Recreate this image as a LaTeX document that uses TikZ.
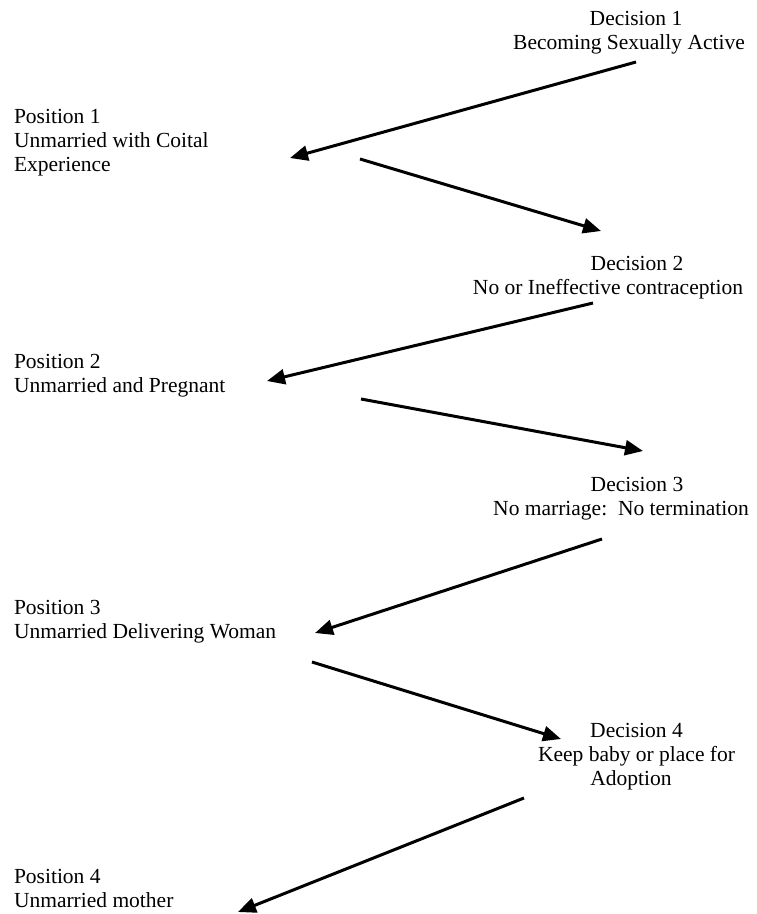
\documentclass[tikz,border=0pt]{standalone}
\usepackage{fontspec}
\setmainfont{Liberation Serif}
\usetikzlibrary{arrows.meta}
\tikzset{
  txt/.style={inner sep=0pt, outer sep=0pt, font=\fontsize{21.5pt}{24pt}\selectfont},
  decbox/.style={txt, anchor=north, align=center},
  posbox/.style={txt, anchor=north west, align=left},
  conn/.style={line width=3pt, -{Triangle[length=18pt,width=15pt]}}
}
\begin{document}
\begin{tikzpicture}[x=1pt,y=-1pt]
\useasboundingbox (0,0) rectangle (756,914);

% decisions
\node[decbox] (d1) at (636,8.2) {\strut Decision 1\\\strut Becoming Sexually Active\hspace*{14pt}};
\node[decbox] (d2) at (637,253.2) {\strut Decision 2\\\strut No or Ineffective contraception\hspace*{58pt}};
\node[decbox] (d3) at (637,474.2) {\strut Decision 3\\\strut No marriage:\ \ No termination\hspace*{32pt}};
\node[decbox] (d4) at (636.5,720.2) {\strut Decision 4\\\strut Keep baby or place for\hspace*{24pt}\\\strut Adoption\hspace*{11pt}};

% positions
\node[posbox] (p1) at (14,106.2) {\strut Position 1\\\strut Unmarried with Coital\\\strut Experience};
\node[posbox] (p2) at (14,351.2) {\strut Position 2\\\strut Unmarried and Pregnant};
\node[posbox] (p3) at (14,597.2) {\strut Position 3\\\strut Unmarried Delivering Woman};
\node[posbox] (p4) at (14,866.2) {\strut Position 4\\\strut Unmarried mother};

% connector ends
\coordinate (a1s) at (636,62);
\coordinate (a1e) at (290,158);
\coordinate (a2s) at (360,159);
\coordinate (a2e) at (601,231);
\coordinate (a3s) at (593,303);
\coordinate (a3e) at (267,381);
\coordinate (a4s) at (361,399);
\coordinate (a4e) at (643,451);
\coordinate (a5s) at (602,539);
\coordinate (a5e) at (315,633);
\coordinate (a6s) at (312,662);
\coordinate (a6e) at (561,739);
\coordinate (a7s) at (524,798);
\coordinate (a7e) at (238,912);

\draw[conn] (a1s) -- (a1e);
\draw[conn] (a2s) -- (a2e);
\draw[conn] (a3s) -- (a3e);
\draw[conn] (a4s) -- (a4e);
\draw[conn] (a5s) -- (a5e);
\draw[conn] (a6s) -- (a6e);
\draw[conn] (a7s) -- (a7e);
\end{tikzpicture}
\end{document}
